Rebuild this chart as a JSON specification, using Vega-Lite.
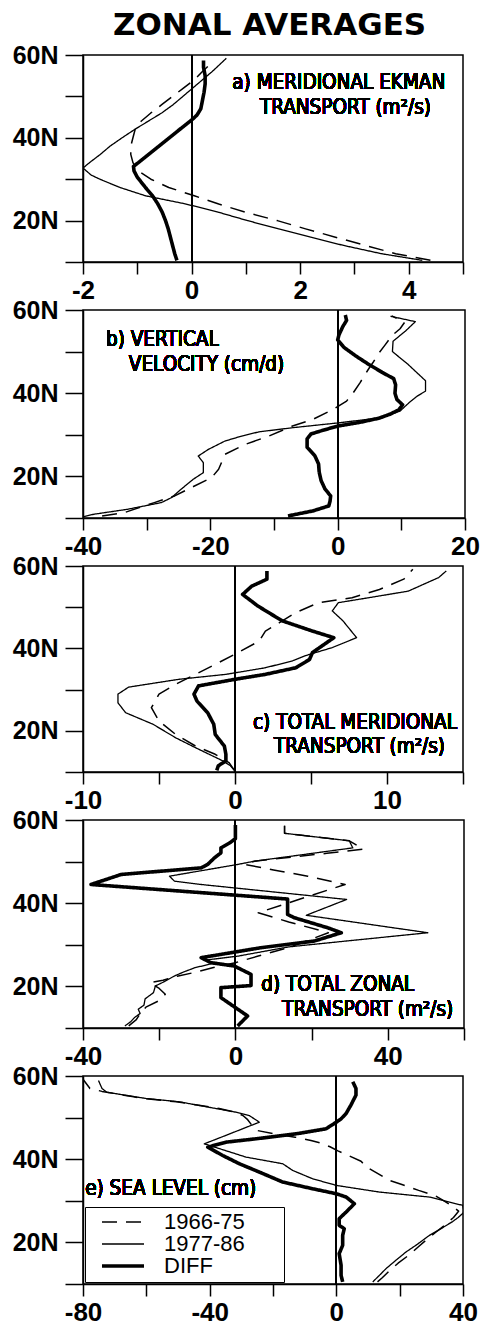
{
  "$schema": "https://vega.github.io/schema/vega-lite/v6.json",
  "padding": {"left": 11, "top": 10, "right": 6, "bottom": 4},
  "background": "white",
  "title": {"text": "ZONAL AVERAGES", "font": "DejaVu Sans", "fontSize": 31, "fontWeight": "bold", "color": "black", "anchor": "start", "frame": "group", "dx": 30, "offset": 0},
  "config": {
    "view": {"stroke": "black", "strokeWidth": 1.5},
    "axis": {"domainColor": "black", "domainWidth": 1.5, "tickColor": "black", "tickWidth": 1.5, "labelColor": "black", "labelFont": "Liberation Sans", "labelFontWeight": "bold", "grid": false, "labelFlush": false, "labelOverlap": false, "labelBound": false},
    "axisX": {"tickSize": 12, "labelPadding": 3, "labelFontSize": 26},
    "axisY": {"tickSize": 18, "labelPadding": 7, "labelFontSize": 25},
    "text": {"font": "DejaVu Sans Condensed, Liberation Sans, sans-serif", "fontSize": 20.5, "color": "black", "align": "left", "baseline": "alphabetic"}
  },
  "datasets": {
    "d": [
      {"p":"a","s":"1966-75","lat":58,"v":0.36},{"p":"a","s":"1966-75","lat":56,"v":0.2},{"p":"a","s":"1966-75","lat":54,"v":0.05},{"p":"a","s":"1966-75","lat":52,"v":-0.15},{"p":"a","s":"1966-75","lat":50,"v":-0.35},{"p":"a","s":"1966-75","lat":48,"v":-0.55},{"p":"a","s":"1966-75","lat":46,"v":-0.75},{"p":"a","s":"1966-75","lat":44,"v":-0.93},{"p":"a","s":"1966-75","lat":42,"v":-1.04},{"p":"a","s":"1966-75","lat":40,"v":-1.08},{"p":"a","s":"1966-75","lat":38,"v":-1.12},{"p":"a","s":"1966-75","lat":36,"v":-1.12},{"p":"a","s":"1966-75","lat":34,"v":-1.08},{"p":"a","s":"1966-75","lat":32,"v":-0.98},{"p":"a","s":"1966-75","lat":30,"v":-0.75},{"p":"a","s":"1966-75","lat":28,"v":-0.42},{"p":"a","s":"1966-75","lat":26,"v":0.05},{"p":"a","s":"1966-75","lat":24,"v":0.5},{"p":"a","s":"1966-75","lat":22,"v":1.0},{"p":"a","s":"1966-75","lat":20,"v":1.58},{"p":"a","s":"1966-75","lat":18,"v":2.1},{"p":"a","s":"1966-75","lat":16,"v":2.65},{"p":"a","s":"1966-75","lat":14,"v":3.2},{"p":"a","s":"1966-75","lat":12,"v":3.76},{"p":"a","s":"1966-75","lat":10.4,"v":4.4},
      {"p":"a","s":"1977-86","lat":59.2,"v":0.64},{"p":"a","s":"1977-86","lat":56,"v":0.38},{"p":"a","s":"1977-86","lat":54,"v":0.2},{"p":"a","s":"1977-86","lat":52,"v":0.02},{"p":"a","s":"1977-86","lat":50,"v":-0.16},{"p":"a","s":"1977-86","lat":48,"v":-0.34},{"p":"a","s":"1977-86","lat":46,"v":-0.55},{"p":"a","s":"1977-86","lat":44,"v":-0.8},{"p":"a","s":"1977-86","lat":42,"v":-1.05},{"p":"a","s":"1977-86","lat":40,"v":-1.28},{"p":"a","s":"1977-86","lat":38,"v":-1.5},{"p":"a","s":"1977-86","lat":36,"v":-1.68},{"p":"a","s":"1977-86","lat":34,"v":-1.88},{"p":"a","s":"1977-86","lat":32.7,"v":-2.0},{"p":"a","s":"1977-86","lat":31,"v":-1.85},{"p":"a","s":"1977-86","lat":30,"v":-1.69},{"p":"a","s":"1977-86","lat":28,"v":-1.32},{"p":"a","s":"1977-86","lat":26,"v":-0.85},{"p":"a","s":"1977-86","lat":24,"v":-0.1},{"p":"a","s":"1977-86","lat":22,"v":0.5},{"p":"a","s":"1977-86","lat":20,"v":1.03},{"p":"a","s":"1977-86","lat":18,"v":1.6},{"p":"a","s":"1977-86","lat":16,"v":2.19},{"p":"a","s":"1977-86","lat":14,"v":2.8},{"p":"a","s":"1977-86","lat":12,"v":3.5},{"p":"a","s":"1977-86","lat":10.4,"v":4.25},
      {"p":"a","s":"DIFF","lat":58.7,"v":0.22},{"p":"a","s":"DIFF","lat":57,"v":0.22},{"p":"a","s":"DIFF","lat":55,"v":0.25},{"p":"a","s":"DIFF","lat":53,"v":0.25},{"p":"a","s":"DIFF","lat":51,"v":0.23},{"p":"a","s":"DIFF","lat":49,"v":0.2},{"p":"a","s":"DIFF","lat":47,"v":0.17},{"p":"a","s":"DIFF","lat":45.5,"v":0.1},{"p":"a","s":"DIFF","lat":44.5,"v":0.02},{"p":"a","s":"DIFF","lat":42,"v":-0.22},{"p":"a","s":"DIFF","lat":40,"v":-0.41},{"p":"a","s":"DIFF","lat":38,"v":-0.6},{"p":"a","s":"DIFF","lat":36,"v":-0.79},{"p":"a","s":"DIFF","lat":34,"v":-0.98},{"p":"a","s":"DIFF","lat":33.1,"v":-1.07},{"p":"a","s":"DIFF","lat":32,"v":-1.06},{"p":"a","s":"DIFF","lat":30.5,"v":-1.0},{"p":"a","s":"DIFF","lat":28,"v":-0.85},{"p":"a","s":"DIFF","lat":26,"v":-0.72},{"p":"a","s":"DIFF","lat":24,"v":-0.62},{"p":"a","s":"DIFF","lat":22,"v":-0.54},{"p":"a","s":"DIFF","lat":20,"v":-0.48},{"p":"a","s":"DIFF","lat":18,"v":-0.43},{"p":"a","s":"DIFF","lat":16,"v":-0.39},{"p":"a","s":"DIFF","lat":14,"v":-0.35},{"p":"a","s":"DIFF","lat":12,"v":-0.31},{"p":"a","s":"DIFF","lat":10.4,"v":-0.27},

      {"p":"b","s":"1966-75","lat":58.6,"v":8.5},{"p":"b","s":"1966-75","lat":57,"v":10.5},{"p":"b","s":"1966-75","lat":55.5,"v":9.8},{"p":"b","s":"1966-75","lat":53.8,"v":8.5},{"p":"b","s":"1966-75","lat":51.5,"v":7.4},{"p":"b","s":"1966-75","lat":49.7,"v":6.5},{"p":"b","s":"1966-75","lat":47.5,"v":5.6},{"p":"b","s":"1966-75","lat":45.7,"v":4.8},{"p":"b","s":"1966-75","lat":42.5,"v":3.5},{"p":"b","s":"1966-75","lat":40,"v":2.4},{"p":"b","s":"1966-75","lat":38.1,"v":1.4},{"p":"b","s":"1966-75","lat":36.1,"v":-0.7},{"p":"b","s":"1966-75","lat":33.7,"v":-3.9},{"p":"b","s":"1966-75","lat":32.1,"v":-7.1},{"p":"b","s":"1966-75","lat":29.7,"v":-10.8},{"p":"b","s":"1966-75","lat":27.7,"v":-14.5},{"p":"b","s":"1966-75","lat":25.3,"v":-17.7},{"p":"b","s":"1966-75","lat":23.5,"v":-18.2},{"p":"b","s":"1966-75","lat":21.7,"v":-18.7},{"p":"b","s":"1966-75","lat":19.7,"v":-19.8},{"p":"b","s":"1966-75","lat":17.3,"v":-23.0},{"p":"b","s":"1966-75","lat":15.3,"v":-25.6},{"p":"b","s":"1966-75","lat":13.7,"v":-28.8},{"p":"b","s":"1966-75","lat":11.3,"v":-33.5},{"p":"b","s":"1966-75","lat":10.5,"v":-37},
      {"p":"b","s":"1977-86","lat":58.5,"v":8.3},{"p":"b","s":"1977-86","lat":57.2,"v":12.2},{"p":"b","s":"1977-86","lat":55,"v":10.7},{"p":"b","s":"1977-86","lat":52.5,"v":8.7},{"p":"b","s":"1977-86","lat":50,"v":8.6},{"p":"b","s":"1977-86","lat":47,"v":11.0},{"p":"b","s":"1977-86","lat":43,"v":13.8},{"p":"b","s":"1977-86","lat":40.5,"v":13.8},{"p":"b","s":"1977-86","lat":39.3,"v":12.5},{"p":"b","s":"1977-86","lat":37.7,"v":11.2},{"p":"b","s":"1977-86","lat":35.7,"v":9.8},{"p":"b","s":"1977-86","lat":34.1,"v":6.7},{"p":"b","s":"1977-86","lat":32.9,"v":0.3},{"p":"b","s":"1977-86","lat":31.7,"v":-7.1},{"p":"b","s":"1977-86","lat":30.7,"v":-12.4},{"p":"b","s":"1977-86","lat":29.5,"v":-15.5},{"p":"b","s":"1977-86","lat":28.5,"v":-17.7},{"p":"b","s":"1977-86","lat":26.5,"v":-20.3},{"p":"b","s":"1977-86","lat":24.9,"v":-21.9},{"p":"b","s":"1977-86","lat":23.3,"v":-21.1},{"p":"b","s":"1977-86","lat":20.9,"v":-21.1},{"p":"b","s":"1977-86","lat":19.3,"v":-22.7},{"p":"b","s":"1977-86","lat":16.9,"v":-24.6},{"p":"b","s":"1977-86","lat":14.9,"v":-26.1},{"p":"b","s":"1977-86","lat":13.7,"v":-27.7},{"p":"b","s":"1977-86","lat":12.1,"v":-33.0},{"p":"b","s":"1977-86","lat":10.9,"v":-38.3},{"p":"b","s":"1977-86","lat":10.3,"v":-40},
      {"p":"b","s":"DIFF","lat":58.8,"v":1.2},{"p":"b","s":"DIFF","lat":57.5,"v":1.4},{"p":"b","s":"DIFF","lat":56,"v":0.8},{"p":"b","s":"DIFF","lat":54,"v":0.2},{"p":"b","s":"DIFF","lat":52.8,"v":0.0},{"p":"b","s":"DIFF","lat":51,"v":1.0},{"p":"b","s":"DIFF","lat":49,"v":2.8},{"p":"b","s":"DIFF","lat":47,"v":4.8},{"p":"b","s":"DIFF","lat":45,"v":7.0},{"p":"b","s":"DIFF","lat":43.5,"v":8.8},{"p":"b","s":"DIFF","lat":42,"v":9.1},{"p":"b","s":"DIFF","lat":40,"v":9.0},{"p":"b","s":"DIFF","lat":38.5,"v":9.3},{"p":"b","s":"DIFF","lat":37.2,"v":10.2},{"p":"b","s":"DIFF","lat":36,"v":9.6},{"p":"b","s":"DIFF","lat":35,"v":8.3},{"p":"b","s":"DIFF","lat":34,"v":6.5},{"p":"b","s":"DIFF","lat":33,"v":3.5},{"p":"b","s":"DIFF","lat":32.1,"v":0},{"p":"b","s":"DIFF","lat":31,"v":-2.5},{"p":"b","s":"DIFF","lat":30.2,"v":-4.2},{"p":"b","s":"DIFF","lat":29,"v":-4.8},{"p":"b","s":"DIFF","lat":27,"v":-4.8},{"p":"b","s":"DIFF","lat":25,"v":-3.6},{"p":"b","s":"DIFF","lat":23,"v":-3.0},{"p":"b","s":"DIFF","lat":21,"v":-2.9},{"p":"b","s":"DIFF","lat":19,"v":-2.6},{"p":"b","s":"DIFF","lat":17,"v":-2.0},{"p":"b","s":"DIFF","lat":15.3,"v":-1.1},{"p":"b","s":"DIFF","lat":14,"v":-1.2},{"p":"b","s":"DIFF","lat":12.9,"v":-1.4},{"p":"b","s":"DIFF","lat":11.7,"v":-3.9},{"p":"b","s":"DIFF","lat":10.5,"v":-7.8},

      {"p":"c","s":"1966-75","lat":59.2,"v":11.7},{"p":"c","s":"1966-75","lat":56.8,"v":11.1},{"p":"c","s":"1966-75","lat":54.3,"v":9.5},{"p":"c","s":"1966-75","lat":52.3,"v":7.7},{"p":"c","s":"1966-75","lat":51.1,"v":5.5},{"p":"c","s":"1966-75","lat":48.7,"v":4.0},{"p":"c","s":"1966-75","lat":46.2,"v":2.9},{"p":"c","s":"1966-75","lat":44.2,"v":2.0},{"p":"c","s":"1966-75","lat":41.8,"v":1.6},{"p":"c","s":"1966-75","lat":38.6,"v":0.0},{"p":"c","s":"1966-75","lat":36.5,"v":-1.1},{"p":"c","s":"1966-75","lat":33.7,"v":-2.6},{"p":"c","s":"1966-75","lat":31.3,"v":-3.9},{"p":"c","s":"1966-75","lat":28.9,"v":-5.0},{"p":"c","s":"1966-75","lat":25.6,"v":-5.5},{"p":"c","s":"1966-75","lat":22.4,"v":-5.0},{"p":"c","s":"1966-75","lat":19.1,"v":-3.9},{"p":"c","s":"1966-75","lat":16.3,"v":-2.6},{"p":"c","s":"1966-75","lat":14.3,"v":-1.3},{"p":"c","s":"1966-75","lat":12.3,"v":-0.4},{"p":"c","s":"1966-75","lat":10.2,"v":0.0},
      {"p":"c","s":"1977-86","lat":58.8,"v":13.9},{"p":"c","s":"1977-86","lat":57.2,"v":13.4},{"p":"c","s":"1977-86","lat":53.9,"v":11.4},{"p":"c","s":"1977-86","lat":52.3,"v":8.8},{"p":"c","s":"1977-86","lat":51.1,"v":6.8},{"p":"c","s":"1977-86","lat":49.1,"v":6.4},{"p":"c","s":"1977-86","lat":46.7,"v":7.1},{"p":"c","s":"1977-86","lat":42.6,"v":8.0},{"p":"c","s":"1977-86","lat":40.2,"v":6.4},{"p":"c","s":"1977-86","lat":38.2,"v":4.6},{"p":"c","s":"1977-86","lat":37.0,"v":3.8},{"p":"c","s":"1977-86","lat":35.3,"v":2.0},{"p":"c","s":"1977-86","lat":33.7,"v":-0.6},{"p":"c","s":"1977-86","lat":32.5,"v":-3.7},{"p":"c","s":"1977-86","lat":30.6,"v":-7.0},{"p":"c","s":"1977-86","lat":28.9,"v":-7.7},{"p":"c","s":"1977-86","lat":26.8,"v":-7.7},{"p":"c","s":"1977-86","lat":24.4,"v":-7.2},{"p":"c","s":"1977-86","lat":21.6,"v":-5.4},{"p":"c","s":"1977-86","lat":18.3,"v":-3.9},{"p":"c","s":"1977-86","lat":15.9,"v":-2.6},{"p":"c","s":"1977-86","lat":14.3,"v":-1.7},{"p":"c","s":"1977-86","lat":12.7,"v":-0.8},{"p":"c","s":"1977-86","lat":11.5,"v":-0.3},{"p":"c","s":"1977-86","lat":10.2,"v":0.0},
      {"p":"c","s":"DIFF","lat":58.8,"v":2.1},{"p":"c","s":"DIFF","lat":56.8,"v":2.1},{"p":"c","s":"DIFF","lat":55.1,"v":1.1},{"p":"c","s":"DIFF","lat":53.1,"v":0.5},{"p":"c","s":"DIFF","lat":50.3,"v":1.5},{"p":"c","s":"DIFF","lat":46.7,"v":3.1},{"p":"c","s":"DIFF","lat":44.2,"v":5.1},{"p":"c","s":"DIFF","lat":42.6,"v":6.5},{"p":"c","s":"DIFF","lat":39,"v":5.1},{"p":"c","s":"DIFF","lat":37.3,"v":4.9},{"p":"c","s":"DIFF","lat":35.3,"v":4.0},{"p":"c","s":"DIFF","lat":33.7,"v":2.0},{"p":"c","s":"DIFF","lat":32.5,"v":0.0},{"p":"c","s":"DIFF","lat":30.9,"v":-2.4},{"p":"c","s":"DIFF","lat":28.9,"v":-2.7},{"p":"c","s":"DIFF","lat":27.2,"v":-2.5},{"p":"c","s":"DIFF","lat":24.4,"v":-1.8},{"p":"c","s":"DIFF","lat":21.6,"v":-1.4},{"p":"c","s":"DIFF","lat":19.1,"v":-1.3},{"p":"c","s":"DIFF","lat":16.3,"v":-0.7},{"p":"c","s":"DIFF","lat":14.3,"v":-0.6},{"p":"c","s":"DIFF","lat":12.7,"v":-0.6},{"p":"c","s":"DIFF","lat":11.5,"v":-1.1},{"p":"c","s":"DIFF","lat":10.4,"v":-1.2},

      {"p":"d","s":"1966-75","lat":58.6,"v":12.9},{"p":"d","s":"1966-75","lat":56.8,"v":12.9},{"p":"d","s":"1966-75","lat":55.0,"v":29.9},{"p":"d","s":"1966-75","lat":53.0,"v":33.6},{"p":"d","s":"1966-75","lat":52.0,"v":24},{"p":"d","s":"1966-75","lat":50.1,"v":5.0},{"p":"d","s":"1966-75","lat":49.3,"v":2.5},{"p":"d","s":"1966-75","lat":48,"v":10},{"p":"d","s":"1966-75","lat":46.5,"v":19},{"p":"d","s":"1966-75","lat":44.5,"v":28.8},{"p":"d","s":"1966-75","lat":41,"v":17},{"p":"d","s":"1966-75","lat":37.7,"v":6.0},{"p":"d","s":"1966-75","lat":35.5,"v":14},{"p":"d","s":"1966-75","lat":32.9,"v":24.4},{"p":"d","s":"1966-75","lat":29.3,"v":13.9},{"p":"d","s":"1966-75","lat":27.3,"v":6.0},{"p":"d","s":"1966-75","lat":25.7,"v":0},{"p":"d","s":"1966-75","lat":24.5,"v":-6},{"p":"d","s":"1966-75","lat":23.5,"v":-10},{"p":"d","s":"1966-75","lat":22.5,"v":-15},{"p":"d","s":"1966-75","lat":21.5,"v":-19},{"p":"d","s":"1966-75","lat":20.9,"v":-22.4},{"p":"d","s":"1966-75","lat":19.5,"v":-20},{"p":"d","s":"1966-75","lat":18.1,"v":-18.4},{"p":"d","s":"1966-75","lat":16.5,"v":-20.2},{"p":"d","s":"1966-75","lat":15.0,"v":-23.5},{"p":"d","s":"1966-75","lat":13.5,"v":-25},{"p":"d","s":"1966-75","lat":12.0,"v":-26},{"p":"d","s":"1966-75","lat":10.5,"v":-28},
      {"p":"d","s":"1977-86","lat":58.6,"v":12.9},{"p":"d","s":"1977-86","lat":56.8,"v":12.9},{"p":"d","s":"1977-86","lat":55.0,"v":29.9},{"p":"d","s":"1977-86","lat":53.3,"v":30.8},{"p":"d","s":"1977-86","lat":50.1,"v":5.0},{"p":"d","s":"1977-86","lat":49.3,"v":0.5},{"p":"d","s":"1977-86","lat":46.5,"v":-17.3},{"p":"d","s":"1977-86","lat":45.3,"v":-16.0},{"p":"d","s":"1977-86","lat":44.5,"v":-9.0},{"p":"d","s":"1977-86","lat":40.9,"v":29.2},{"p":"d","s":"1977-86","lat":37.1,"v":18.6},{"p":"d","s":"1977-86","lat":32.9,"v":50.5},{"p":"d","s":"1977-86","lat":29.5,"v":14.0},{"p":"d","s":"1977-86","lat":27.3,"v":0.8},{"p":"d","s":"1977-86","lat":26.3,"v":-8.0},{"p":"d","s":"1977-86","lat":25.5,"v":-6.0},{"p":"d","s":"1977-86","lat":24.5,"v":-10.6},{"p":"d","s":"1977-86","lat":23.5,"v":-13.5},{"p":"d","s":"1977-86","lat":22.5,"v":-16},{"p":"d","s":"1977-86","lat":21.0,"v":-19},{"p":"d","s":"1977-86","lat":20.1,"v":-21},{"p":"d","s":"1977-86","lat":18.5,"v":-21.5},{"p":"d","s":"1977-86","lat":17.0,"v":-23.7},{"p":"d","s":"1977-86","lat":15.5,"v":-24},{"p":"d","s":"1977-86","lat":14.5,"v":-25.5},{"p":"d","s":"1977-86","lat":13.5,"v":-25},{"p":"d","s":"1977-86","lat":12.5,"v":-26.5},{"p":"d","s":"1977-86","lat":11.5,"v":-27.5},{"p":"d","s":"1977-86","lat":10.5,"v":-29},
      {"p":"d","s":"DIFF","lat":58.8,"v":0},{"p":"d","s":"DIFF","lat":55.5,"v":0},{"p":"d","s":"DIFF","lat":54.5,"v":-1.5},{"p":"d","s":"DIFF","lat":53.3,"v":-3.8},{"p":"d","s":"DIFF","lat":52.1,"v":-3.8},{"p":"d","s":"DIFF","lat":50.9,"v":-5.5},{"p":"d","s":"DIFF","lat":49.3,"v":-7.3},{"p":"d","s":"DIFF","lat":48.5,"v":-9.0},{"p":"d","s":"DIFF","lat":46.9,"v":-30.0},{"p":"d","s":"DIFF","lat":44.5,"v":-37.9},{"p":"d","s":"DIFF","lat":41.0,"v":13.7},{"p":"d","s":"DIFF","lat":37.3,"v":13.7},{"p":"d","s":"DIFF","lat":36.5,"v":15.5},{"p":"d","s":"DIFF","lat":34.1,"v":24.2},{"p":"d","s":"DIFF","lat":32.9,"v":27.8},{"p":"d","s":"DIFF","lat":30.9,"v":20.7},{"p":"d","s":"DIFF","lat":29.3,"v":6.7},{"p":"d","s":"DIFF","lat":26.9,"v":-9.0},{"p":"d","s":"DIFF","lat":25.7,"v":-6.4},{"p":"d","s":"DIFF","lat":24.9,"v":-0.3},{"p":"d","s":"DIFF","lat":22.9,"v":4.1},{"p":"d","s":"DIFF","lat":20.2,"v":4.1},{"p":"d","s":"DIFF","lat":19.7,"v":-3.8},{"p":"d","s":"DIFF","lat":17.3,"v":-3.8},{"p":"d","s":"DIFF","lat":12.9,"v":3.2},{"p":"d","s":"DIFF","lat":10.5,"v":0.6},

      {"p":"e","s":"1966-75","lat":59.2,"v":-80},{"p":"e","s":"1966-75","lat":57.0,"v":-77.8},{"p":"e","s":"1966-75","lat":56.3,"v":-74},{"p":"e","s":"1966-75","lat":55.0,"v":-64},{"p":"e","s":"1966-75","lat":54.6,"v":-61},{"p":"e","s":"1966-75","lat":53.8,"v":-50.5},{"p":"e","s":"1966-75","lat":52.2,"v":-37},{"p":"e","s":"1966-75","lat":51.3,"v":-32},{"p":"e","s":"1966-75","lat":50.5,"v":-29.5},{"p":"e","s":"1966-75","lat":49.5,"v":-28},{"p":"e","s":"1966-75","lat":48.5,"v":-27},{"p":"e","s":"1966-75","lat":47.5,"v":-26},{"p":"e","s":"1966-75","lat":46.9,"v":-25},{"p":"e","s":"1966-75","lat":46.0,"v":-19},{"p":"e","s":"1966-75","lat":45.3,"v":-13},{"p":"e","s":"1966-75","lat":44.5,"v":-8},{"p":"e","s":"1966-75","lat":43.9,"v":-5},{"p":"e","s":"1966-75","lat":43.0,"v":-2},{"p":"e","s":"1966-75","lat":42.0,"v":0.5},{"p":"e","s":"1966-75","lat":41.0,"v":3.5},{"p":"e","s":"1966-75","lat":39.5,"v":7.8},{"p":"e","s":"1966-75","lat":38.1,"v":9.6},{"p":"e","s":"1966-75","lat":36.6,"v":13},{"p":"e","s":"1966-75","lat":35.0,"v":16.5},{"p":"e","s":"1966-75","lat":33.9,"v":20.7},{"p":"e","s":"1966-75","lat":32.5,"v":26},{"p":"e","s":"1966-75","lat":31.3,"v":31},{"p":"e","s":"1966-75","lat":30.0,"v":34},{"p":"e","s":"1966-75","lat":28.5,"v":37},{"p":"e","s":"1966-75","lat":27.5,"v":38.6},{"p":"e","s":"1966-75","lat":26.0,"v":37},{"p":"e","s":"1966-75","lat":25.0,"v":35.5},{"p":"e","s":"1966-75","lat":24.0,"v":34},{"p":"e","s":"1966-75","lat":22.5,"v":31.5},{"p":"e","s":"1966-75","lat":21.0,"v":29},{"p":"e","s":"1966-75","lat":19.0,"v":26},{"p":"e","s":"1966-75","lat":17.0,"v":23},{"p":"e","s":"1966-75","lat":15.0,"v":19.5},{"p":"e","s":"1966-75","lat":13.0,"v":16.5},{"p":"e","s":"1966-75","lat":11.5,"v":14.5},{"p":"e","s":"1966-75","lat":10.5,"v":13},
      {"p":"e","s":"1977-86","lat":58.9,"v":-75.1},{"p":"e","s":"1977-86","lat":57.0,"v":-74.0},{"p":"e","s":"1977-86","lat":56.1,"v":-72.5},{"p":"e","s":"1977-86","lat":55.0,"v":-63.5},{"p":"e","s":"1977-86","lat":54.6,"v":-60.1},{"p":"e","s":"1977-86","lat":53.8,"v":-49.6},{"p":"e","s":"1977-86","lat":51.3,"v":-31.7},{"p":"e","s":"1977-86","lat":50.5,"v":-27.5},{"p":"e","s":"1977-86","lat":48.9,"v":-24.3},{"p":"e","s":"1977-86","lat":48.0,"v":-27.3},{"p":"e","s":"1977-86","lat":46.5,"v":-32.3},{"p":"e","s":"1977-86","lat":45.0,"v":-37.3},{"p":"e","s":"1977-86","lat":43.7,"v":-41.7},{"p":"e","s":"1977-86","lat":42.0,"v":-34.7},{"p":"e","s":"1977-86","lat":40.5,"v":-28.5},{"p":"e","s":"1977-86","lat":38.9,"v":-16.9},{"p":"e","s":"1977-86","lat":37.3,"v":-13.8},{"p":"e","s":"1977-86","lat":35.3,"v":-7.5},{"p":"e","s":"1977-86","lat":33.7,"v":0},{"p":"e","s":"1977-86","lat":32.1,"v":13.6},{"p":"e","s":"1977-86","lat":30.9,"v":29.4},{"p":"e","s":"1977-86","lat":28.9,"v":39.9},{"p":"e","s":"1977-86","lat":27.3,"v":40.4},{"p":"e","s":"1977-86","lat":26.0,"v":38.5},{"p":"e","s":"1977-86","lat":25.0,"v":36.7},{"p":"e","s":"1977-86","lat":23.5,"v":33.5},{"p":"e","s":"1977-86","lat":21.7,"v":29.4},{"p":"e","s":"1977-86","lat":19.5,"v":25.5},{"p":"e","s":"1977-86","lat":17.7,"v":22},{"p":"e","s":"1977-86","lat":15.5,"v":18.5},{"p":"e","s":"1977-86","lat":13.7,"v":15.7},{"p":"e","s":"1977-86","lat":12.0,"v":13.5},{"p":"e","s":"1977-86","lat":10.5,"v":11.5},
      {"p":"e","s":"DIFF","lat":58.6,"v":5.2},{"p":"e","s":"DIFF","lat":57,"v":6.2},{"p":"e","s":"DIFF","lat":55.4,"v":6.2},{"p":"e","s":"DIFF","lat":53,"v":4.6},{"p":"e","s":"DIFF","lat":51,"v":3.1},{"p":"e","s":"DIFF","lat":49.7,"v":1.5},{"p":"e","s":"DIFF","lat":48.9,"v":0},{"p":"e","s":"DIFF","lat":47.3,"v":-3.3},{"p":"e","s":"DIFF","lat":46.1,"v":-12.7},{"p":"e","s":"DIFF","lat":44.9,"v":-25.4},{"p":"e","s":"DIFF","lat":44.1,"v":-34.8},{"p":"e","s":"DIFF","lat":42.9,"v":-40.6},{"p":"e","s":"DIFF","lat":40.9,"v":-35.9},{"p":"e","s":"DIFF","lat":38.9,"v":-30.6},{"p":"e","s":"DIFF","lat":36.9,"v":-24.3},{"p":"e","s":"DIFF","lat":34.5,"v":-16.9},{"p":"e","s":"DIFF","lat":32.9,"v":-7.5},{"p":"e","s":"DIFF","lat":31.7,"v":0},{"p":"e","s":"DIFF","lat":30.9,"v":3.1},{"p":"e","s":"DIFF","lat":29.3,"v":5.7},{"p":"e","s":"DIFF","lat":27.3,"v":3.1},{"p":"e","s":"DIFF","lat":25.7,"v":0.9},{"p":"e","s":"DIFF","lat":24.1,"v":0.9},{"p":"e","s":"DIFF","lat":23.3,"v":2.5},{"p":"e","s":"DIFF","lat":21.7,"v":2.0},{"p":"e","s":"DIFF","lat":19.3,"v":2.0},{"p":"e","s":"DIFF","lat":17.3,"v":0.9},{"p":"e","s":"DIFF","lat":14.5,"v":1.5},{"p":"e","s":"DIFF","lat":12.1,"v":1.5},{"p":"e","s":"DIFF","lat":10.5,"v":2.0}
    ]
  },
  "data": {"name": "d"},
  "spacing": -7,
  "resolve": {"scale": {"x": "independent", "y": "independent", "strokeDash": "independent", "strokeWidth": "independent"}},
  "vconcat": [
    {
      "width": 380, "height": 207,
      "transform": [{"filter": "datum.p === 'a'"}],
      "layer": [
        {"mark": {"type": "rule", "color": "black", "strokeWidth": 1.2}, "encoding": {"x": {"datum": 0, "type": "quantitative"}}},
        {"mark": {"type": "line", "color": "black", "clip": true, "strokeJoin": "round"},
         "encoding": {
          "x": {"field": "v", "type": "quantitative", "scale": {"domain": [-2, 5], "nice": false, "zero": false}, "axis": {"title": null, "values": [-2, -1, 0, 1, 2, 3, 4, 5], "labelExpr": "datum.value % 2 === 0 ? '' + datum.value : ''"}},
          "y": {"field": "lat", "type": "quantitative", "scale": {"domain": [10, 60], "nice": false, "zero": false}, "axis": {"title": null, "values": [10, 20, 30, 40, 50, 60], "labelExpr": "datum.value % 20 === 0 ? datum.value + 'N' : ''"}},
          "order": {"field": "lat", "type": "quantitative"},
          "strokeDash": {"field": "s", "type": "ordinal", "scale": {"type": "ordinal", "domain": ["1966-75", "1977-86", "DIFF"], "range": [[15, 9], [1, 0], [1, 0]]}, "legend": null},
          "strokeWidth": {"field": "s", "type": "ordinal", "scale": {"type": "ordinal", "domain": ["1966-75", "1977-86", "DIFF"], "range": [1.5, 1.3, 3.6]}, "legend": null}
         }},
        {"mark": {"type": "text"}, "encoding": {"x": {"datum": 0.75, "type": "quantitative"}, "y": {"datum": 51.8, "type": "quantitative"}, "text": {"value": "a) MERIDIONAL EKMAN"}}},
        {"mark": {"type": "text"}, "encoding": {"x": {"datum": 1.26, "type": "quantitative"}, "y": {"datum": 45.7, "type": "quantitative"}, "text": {"value": "TRANSPORT (m²/s)"}}}
      ]
    },
    {
      "width": 382, "height": 208,
      "transform": [{"filter": "datum.p === 'b'"}],
      "layer": [
        {"mark": {"type": "rule", "color": "black", "strokeWidth": 1.2}, "encoding": {"x": {"datum": 0, "type": "quantitative"}}},
        {"mark": {"type": "line", "color": "black", "clip": true, "strokeJoin": "round"},
         "encoding": {
          "x": {"field": "v", "type": "quantitative", "scale": {"domain": [-40, 20], "nice": false, "zero": false}, "axis": {"title": null, "values": [-40, -30, -20, -10, 0, 10, 20], "labelExpr": "datum.value % 20 === 0 ? '' + datum.value : ''"}},
          "y": {"field": "lat", "type": "quantitative", "scale": {"domain": [10, 60], "nice": false, "zero": false}, "axis": {"title": null, "values": [10, 20, 30, 40, 50, 60], "labelExpr": "datum.value % 20 === 0 ? datum.value + 'N' : ''"}},
          "order": {"field": "lat", "type": "quantitative"},
          "strokeDash": {"field": "s", "type": "ordinal", "scale": {"type": "ordinal", "domain": ["1966-75", "1977-86", "DIFF"], "range": [[15, 9], [1, 0], [1, 0]]}, "legend": null},
          "strokeWidth": {"field": "s", "type": "ordinal", "scale": {"type": "ordinal", "domain": ["1966-75", "1977-86", "DIFF"], "range": [1.5, 1.3, 3.6]}, "legend": null}
         }},
        {"mark": {"type": "text"}, "encoding": {"x": {"datum": -36.4, "type": "quantitative"}, "y": {"datum": 51.3, "type": "quantitative"}, "text": {"value": "b) VERTICAL"}}},
        {"mark": {"type": "text"}, "encoding": {"x": {"datum": -32.8, "type": "quantitative"}, "y": {"datum": 45.3, "type": "quantitative"}, "text": {"value": "VELOCITY (cm/d)"}}}
      ]
    },
    {
      "width": 380, "height": 206,
      "transform": [{"filter": "datum.p === 'c'"}],
      "layer": [
        {"mark": {"type": "rule", "color": "black", "strokeWidth": 1.2}, "encoding": {"x": {"datum": 0, "type": "quantitative"}}},
        {"mark": {"type": "line", "color": "black", "clip": true, "strokeJoin": "round"},
         "encoding": {
          "x": {"field": "v", "type": "quantitative", "scale": {"domain": [-10, 15], "nice": false, "zero": false}, "axis": {"title": null, "values": [-10, -5, 0, 5, 10, 15], "labelExpr": "datum.value % 10 === 0 ? '' + datum.value : ''"}},
          "y": {"field": "lat", "type": "quantitative", "scale": {"domain": [10, 60], "nice": false, "zero": false}, "axis": {"title": null, "values": [10, 20, 30, 40, 50, 60], "labelExpr": "datum.value % 20 === 0 ? datum.value + 'N' : ''"}},
          "order": {"field": "lat", "type": "quantitative"},
          "strokeDash": {"field": "s", "type": "ordinal", "scale": {"type": "ordinal", "domain": ["1966-75", "1977-86", "DIFF"], "range": [[15, 9], [1, 0], [1, 0]]}, "legend": null},
          "strokeWidth": {"field": "s", "type": "ordinal", "scale": {"type": "ordinal", "domain": ["1966-75", "1977-86", "DIFF"], "range": [1.5, 1.3, 3.6]}, "legend": null}
         }},
        {"mark": {"type": "text"}, "encoding": {"x": {"datum": 1.18, "type": "quantitative"}, "y": {"datum": 20.4, "type": "quantitative"}, "text": {"value": "c) TOTAL MERIDIONAL"}}},
        {"mark": {"type": "text"}, "encoding": {"x": {"datum": 2.57, "type": "quantitative"}, "y": {"datum": 14.6, "type": "quantitative"}, "text": {"value": "TRANSPORT (m²/s)"}}}
      ]
    },
    {
      "width": 381, "height": 208,
      "transform": [{"filter": "datum.p === 'd'"}],
      "layer": [
        {"mark": {"type": "rule", "color": "black", "strokeWidth": 1.2}, "encoding": {"x": {"datum": 0, "type": "quantitative"}}},
        {"mark": {"type": "line", "color": "black", "clip": true, "strokeJoin": "round"},
         "encoding": {
          "x": {"field": "v", "type": "quantitative", "scale": {"domain": [-40, 60], "nice": false, "zero": false}, "axis": {"title": null, "values": [-40, -20, 0, 20, 40, 60], "labelExpr": "datum.value % 40 === 0 ? '' + datum.value : ''"}},
          "y": {"field": "lat", "type": "quantitative", "scale": {"domain": [10, 60], "nice": false, "zero": false}, "axis": {"title": null, "values": [10, 20, 30, 40, 50, 60], "labelExpr": "datum.value % 20 === 0 ? datum.value + 'N' : ''"}},
          "order": {"field": "lat", "type": "quantitative"},
          "strokeDash": {"field": "s", "type": "ordinal", "scale": {"type": "ordinal", "domain": ["1966-75", "1977-86", "DIFF"], "range": [[15, 9], [1, 0], [1, 0]]}, "legend": null},
          "strokeWidth": {"field": "s", "type": "ordinal", "scale": {"type": "ordinal", "domain": ["1966-75", "1977-86", "DIFF"], "range": [1.5, 1.3, 3.6]}, "legend": null}
         }},
        {"mark": {"type": "text"}, "encoding": {"x": {"datum": 6.8, "type": "quantitative"}, "y": {"datum": 18.9, "type": "quantitative"}, "text": {"value": "d) TOTAL ZONAL"}}},
        {"mark": {"type": "text"}, "encoding": {"x": {"datum": 12.3, "type": "quantitative"}, "y": {"datum": 12.9, "type": "quantitative"}, "text": {"value": "TRANSPORT (m²/s)"}}}
      ]
    },
    {
      "width": 380, "height": 208,
      "transform": [{"filter": "datum.p === 'e'"}],
      "layer": [
        {"mark": {"type": "rule", "color": "black", "strokeWidth": 1.2}, "encoding": {"x": {"datum": 0, "type": "quantitative"}}},
        {"mark": {"type": "line", "color": "black", "clip": true, "strokeJoin": "round"},
         "encoding": {
          "x": {"field": "v", "type": "quantitative", "scale": {"domain": [-80, 40], "nice": false, "zero": false}, "axis": {"title": null, "values": [-80, -60, -40, -20, 0, 20, 40], "labelExpr": "datum.value % 40 === 0 ? '' + datum.value : ''"}},
          "y": {"field": "lat", "type": "quantitative", "scale": {"domain": [10, 60], "nice": false, "zero": false}, "axis": {"title": null, "values": [10, 20, 30, 40, 50, 60], "labelExpr": "datum.value % 20 === 0 ? datum.value + 'N' : ''"}},
          "order": {"field": "lat", "type": "quantitative"},
          "strokeDash": {"field": "s", "type": "ordinal", "scale": {"type": "ordinal", "domain": ["1966-75", "1977-86", "DIFF"], "range": [[15, 9], [1, 0], [1, 0]]},
            "legend": {"title": "\u00a0", "titleOrient": "right", "titlePadding": 34, "orient": "bottom-left", "offset": 2, "padding": 5, "strokeColor": "black", "fillColor": "white", "symbolType": "stroke", "symbolSize": 1764, "symbolStrokeColor": "black", "symbolOffset": 10, "labelFont": "Liberation Sans", "labelFontSize": 22, "labelFontWeight": "normal", "labelColor": "black", "labelOffset": 18, "clipHeight": 20, "rowPadding": 0}},
          "strokeWidth": {"field": "s", "type": "ordinal", "scale": {"type": "ordinal", "domain": ["1966-75", "1977-86", "DIFF"], "range": [1.5, 1.3, 3.6]},
            "legend": {"title": "\u00a0", "titleOrient": "right", "titlePadding": 34, "orient": "bottom-left", "offset": 2, "padding": 5, "strokeColor": "black", "fillColor": "white", "symbolType": "stroke", "symbolSize": 1764, "symbolStrokeColor": "black", "symbolOffset": 10, "labelFont": "Liberation Sans", "labelFontSize": 22, "labelFontWeight": "normal", "labelColor": "black", "labelOffset": 18, "clipHeight": 20, "rowPadding": 0}}
         }},
        {"mark": {"type": "text"}, "encoding": {"x": {"datum": -79.3, "type": "quantitative"}, "y": {"datum": 31.4, "type": "quantitative"}, "text": {"value": "e) SEA LEVEL (cm)"}}}
      ]
    }
  ]
}
